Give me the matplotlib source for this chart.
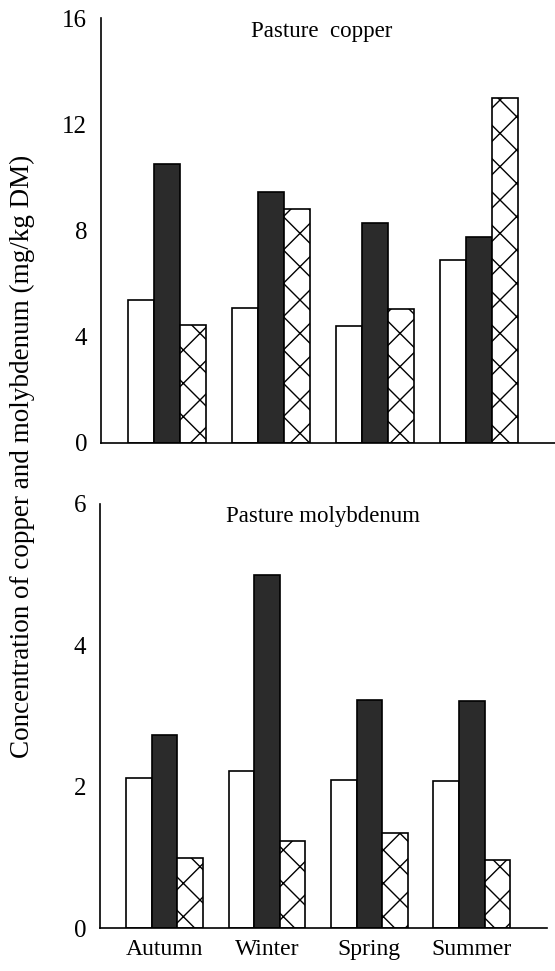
import numpy as np
import matplotlib
matplotlib.use("Agg")
import matplotlib.pyplot as plt

plt.rcParams['font.family'] = ['Liberation Serif', 'DejaVu Serif']
plt.rcParams['hatch.linewidth'] = 1.0

seasons = ["Autumn", "Winter", "Spring", "Summer"]

# Pasture copper (mg/kg DM)
cu_white = [5.4, 5.1, 4.4, 6.9]
cu_black = [10.5, 9.45, 8.3, 7.75]
cu_hatch = [4.45, 8.8, 5.05, 13.0]

# Pasture molybdenum (mg/kg DM)
mo_white = [2.13, 2.23, 2.09, 2.08]
mo_black = [2.73, 5.0, 3.23, 3.22]
mo_hatch = [1.0, 1.23, 1.35, 0.96]

cu_ticks = [0, 4, 8, 12, 16]
mo_ticks = [0, 2, 4, 6]


def draw_panel(ax, white, black, hatch, ticks, title, title_x):
    x = np.arange(len(seasons))
    w = 0.25
    ax.bar(x - w, white, w, color="white", edgecolor="black", linewidth=1.2)
    ax.bar(x, black, w, color="#2b2b2b", edgecolor="black", linewidth=1.2)
    ax.bar(x + w, hatch, w, color="white", edgecolor="black", linewidth=1.2, hatch="x")
    ax.set_xlim(-0.63, 3.73)
    ax.set_ylim(0, ticks[-1])
    ax.set_yticks(ticks)
    ax.tick_params(axis="y", length=0, labelsize=18, pad=10)
    ax.tick_params(axis="x", length=0)
    ax.spines["top"].set_visible(False)
    ax.spines["right"].set_visible(False)
    ax.spines["left"].set_linewidth(1.2)
    ax.spines["bottom"].set_linewidth(1.2)
    ax.text(title_x, 0.995, title, transform=ax.transAxes, ha="center", va="top", fontsize=16.5)


fig = plt.figure(figsize=(5.55, 9.71), dpi=100)
ax1 = fig.add_axes([0.182, 0.544, 0.818, 0.437])
ax2 = fig.add_axes([0.180, 0.044, 0.805, 0.437])

draw_panel(ax1, cu_white, cu_black, cu_hatch, cu_ticks, "Pasture  copper", 0.485)
ax1.set_xticks([])

draw_panel(ax2, mo_white, mo_black, mo_hatch, mo_ticks, "Pasture molybdenum", 0.50)
ax2.set_xticks(np.arange(len(seasons)))
ax2.set_xticklabels(seasons, fontsize=17)
ax2.tick_params(axis="x", pad=8)

fig.text(0.04, 0.53, "Concentration of copper and molybdenum (mg/kg DM)",
         rotation=90, ha="center", va="center", fontsize=19.5)

fig.savefig("out.png", dpi=100)
